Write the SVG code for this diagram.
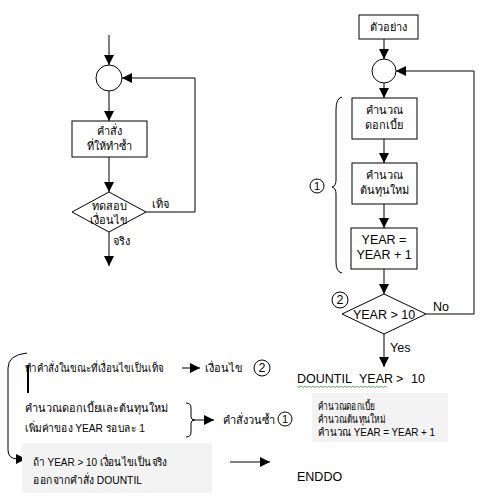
<svg xmlns="http://www.w3.org/2000/svg" width="490" height="500" viewBox="0 0 490 500">
<defs>
<marker id="ah" markerUnits="userSpaceOnUse" markerWidth="10" markerHeight="10" refX="10" refY="5" orient="auto">
<path d="M0,0 L10,5 L0,10 z" fill="#000"/>
</marker>
<style>
.s{fill:none;stroke:#000;stroke-width:1}
.b{fill:#fff;stroke:#000;stroke-width:1}
.a{fill:none;stroke:#000;stroke-width:1;marker-end:url(#ah)}
text{font-family:"Liberation Sans","Noto Sans",sans-serif;font-size:11px;fill:#000}
.c{text-anchor:middle}
.big{font-size:12.5px}
</style>
</defs>
<rect width="490" height="500" fill="#fff"/>
<g id="connectors">
<line class="a" x1="109" y1="35" x2="109" y2="65"/>
<line class="a" x1="109" y1="91" x2="109" y2="121"/>
<line class="a" x1="109" y1="157" x2="109" y2="192"/>
<line class="a" x1="109" y1="232" x2="109" y2="266"/>
<polyline class="a" points="146,212 195,212 195,78 122,78"/>
<line class="a" x1="384" y1="39" x2="384" y2="59"/>
<line class="a" x1="384" y1="83" x2="384" y2="98"/>
<line class="a" x1="384" y1="139" x2="384" y2="163"/>
<line class="a" x1="384" y1="204" x2="384" y2="228"/>
<line class="a" x1="384" y1="269" x2="384" y2="294"/>
<polyline class="a" points="426,314 474,314 474,71 396,71"/>
<line class="a" x1="384" y1="334" x2="384" y2="367"/>
<path class="a" d="M27,353 Q8,355 8,368 L8,450 Q8,459 18,459 L26,459"/>
<line class="a" x1="182" y1="368" x2="200" y2="368"/>
<line class="a" x1="195" y1="420" x2="214" y2="420"/>
<line class="a" x1="230" y1="462" x2="270" y2="462"/>
</g>
<g id="left-start">
<circle class="b" cx="109" cy="78" r="13"/>
</g>
<g id="left-body">
<rect class="b" x="72" y="121" width="75" height="36"/>
<text class="c" x="109" y="135">คำสั่ง</text>
<text class="c" x="109" y="150">ที่ให้ทำซ้ำ</text>
</g>
<g id="left-test">
<polygon class="b" points="72,212 109,192 146,212 109,232"/>
<text class="c" x="109" y="210">ทดสอบ</text>
<text class="c" x="109" y="224">เงื่อนไข</text>
</g>
<g id="left-labels">
<text x="152" y="208">เท็จ</text>
<text x="113" y="245">จริง</text>
</g>
<g id="r-example">
<rect class="b" x="359" y="15" width="59" height="24"/>
<text class="c" x="388" y="31">ตัวอย่าง</text>
</g>
<g id="r-join">
<circle class="b" cx="384" cy="71" r="12"/>
</g>
<g id="r-interest">
<rect class="b" x="352" y="98" width="65" height="41"/>
<text class="c" x="384" y="114">คำนวณ</text>
<text class="c" x="384" y="129">ดอกเบี้ย</text>
</g>
<g id="r-capital">
<rect class="b" x="352" y="163" width="65" height="41"/>
<text class="c" x="384" y="179">คำนวณ</text>
<text class="c" x="384" y="194">ต้นทุนใหม่</text>
</g>
<g id="r-year">
<rect class="b" x="351" y="228" width="66" height="41"/>
<text class="c big" x="384" y="244">YEAR =</text>
<text class="c big" x="384" y="259">YEAR + 1</text>
</g>
<g id="r-test">
<polygon class="b" points="342,314 384,294 426,314 384,334"/>
<text class="c big" x="384" y="319">YEAR &gt; 10</text>
</g>
<g id="r-labels">
<text class="big" x="433" y="311">No</text>
<text class="big" x="390" y="352">Yes</text>
<path class="s" d="M342,97 Q336,98 336,110 L336,180 Q336,186 332,187 Q336,188 336,194 L336,262 Q336,272 342,273"/>
<circle class="s" cx="317" cy="186" r="7"/>
<text class="c" x="317" y="190">1</text>
<circle class="s" cx="340" cy="300" r="8"/>
<text class="c big" x="340" y="304">2</text>
</g>
<g id="dountil">
<text class="big" x="297" y="383">DOUNTIL</text>
<text class="big" x="359" y="383">YEAR</text>
<text class="big" x="396" y="383">&gt;</text>
<text class="big" x="411" y="383">10</text>
<path d="M297,386 l2,1.5 l2,-1.5 l2,1.5 l2,-1.5 l2,1.5 l2,-1.5 l2,1.5 l2,-1.5 l2,1.5 l2,-1.5 l2,1.5 l2,-1.5 l2,1.5 l2,-1.5 l2,1.5 l2,-1.5 l2,1.5 l2,-1.5 l2,1.5 l2,-1.5 l2,1.5 l2,-1.5 l2,1.5 l2,-1.5 l2,1.5 l2,-1.5 l2,1.5 l2,-1.5 l2,1.5 l2,-1.5 l2,1.5 l2,-1.5 l2,1.5 l2,-1.5 l2,1.5 l2,-1.5 l2,1.5 l2,-1.5 l2,1.5 l2,-1.5 l2,1.5 l2,-1.5 l2,1.5 l2,-1.5 l2,1.5" fill="none" stroke="#3a9a3a" stroke-width="0.8"/>
</g>
<g id="code-box">
<rect x="312" y="393" width="136" height="49" fill="#f3f3f3"/>
<text x="318" y="410" textLength="57" lengthAdjust="spacingAndGlyphs">คำนวณดอกเบี้ย</text>
<text x="318" y="423" textLength="67" lengthAdjust="spacingAndGlyphs">คำนวณต้นทุนใหม่</text>
<text x="318" y="436" textLength="117" lengthAdjust="spacingAndGlyphs">คำนวณ YEAR = YEAR + 1</text>
</g>
<g id="enddo">
<text class="big" x="297" y="481">ENDDO</text>
</g>
<g id="notes">
<line x1="28" y1="365" x2="28" y2="393" stroke="#000" stroke-width="2"/>
<text x="25" y="372" textLength="138" lengthAdjust="spacingAndGlyphs">ทำคำสั่งในขณะที่เงื่อนไขเป็นเท็จ</text>
<text x="205" y="372">เงื่อนไข</text>
<circle class="s" cx="262" cy="368" r="8"/>
<text class="c big" x="262" y="372">2</text>
<text x="25" y="412" textLength="143" lengthAdjust="spacingAndGlyphs">คำนวณดอกเบี้ยและต้นทุนใหม่</text>
<text x="25" y="432" textLength="120" lengthAdjust="spacingAndGlyphs">เพิ่มค่าของ YEAR รอบละ 1</text>
<path class="s" d="M186,403 Q191,403 191,408 L191,417 Q191,420 195,420 Q191,420 191,423 L191,432 Q191,437 186,437"/>
<text x="223" y="424">คำสั่งวนซ้ำ</text>
<circle class="s" cx="285" cy="419" r="7"/>
<text class="c" x="285" y="423">1</text>
<rect x="22" y="443" width="190" height="50" fill="#f3f3f3"/>
<text x="33" y="466" textLength="134" lengthAdjust="spacingAndGlyphs">ถ้า YEAR &gt; 10 เงื่อนไขเป็นจริง</text>
<text x="33" y="484" textLength="109" lengthAdjust="spacingAndGlyphs">ออกจากคำสั่ง DOUNTIL</text>
</g>
</svg>
